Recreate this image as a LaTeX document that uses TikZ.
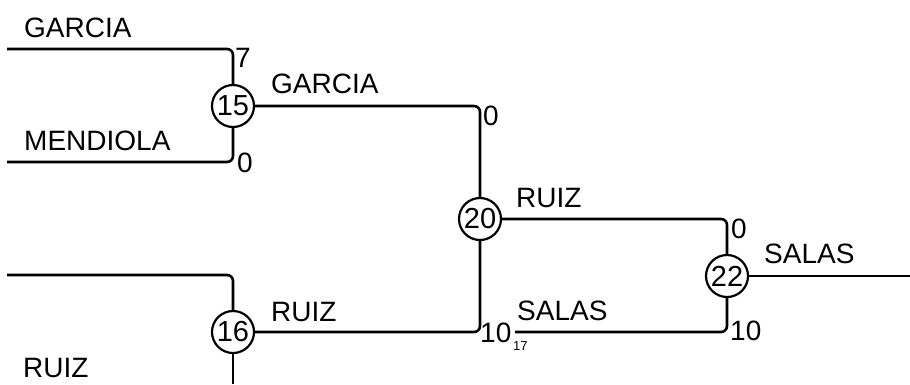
\documentclass[tikz,border=0pt]{standalone}
\usepackage{fontspec}
\setmainfont{Liberation Sans}
\begin{document}
\begin{tikzpicture}[x=1pt,y=-1pt,
  wire/.style={line width=2.6pt,rounded corners=6pt},
  match/.style={circle,draw,line width=2.2pt,minimum size=42pt,inner sep=0pt,font=\fontsize{29}{30}\selectfont},
  lab/.style={anchor=base west,inner sep=0pt,font=\fontsize{28}{30}\selectfont},
  tiny/.style={anchor=base west,inner sep=0pt,font=\fontsize{13}{14}\selectfont}]
\useasboundingbox (0,0) rectangle (910,384);
% matches
\node[match] (m15) at (233,106) {15};
\node[match] (m16) at (233,332) {16};
\node[match] (m20) at (480,219) {20};
\node[match] (m22) at (727,276) {22};
% free ends
\coordinate (gA) at (7,49);
\coordinate (mA) at (7,162);
\coordinate (rA) at (7,275);
\coordinate (rB) at (233,384);
\coordinate (out) at (910,276);
\coordinate (sA) at (515,332);
% connectors
\draw[wire] (gA) -| (m15);
\draw[wire] (mA) -| (m15);
\draw[wire] (rA) -| (m16);
\draw[wire] (m16) -- (rB);
\draw[wire] (m15) -| (m20);
\draw[wire] (m16) -| (m20);
\draw[wire] (m20) -| (m22);
\draw[wire] (sA) -| (m22);
\draw[wire] (m22) -- (out);
% labels
\node[lab] (t1) at (24,37) {GARCIA};
\node[lab] (t2) at (24,150) {MENDIOLA};
\node[lab] (t3) at (235,67) {7};
\node[lab] (t4) at (237,172) {0};
\node[lab] (t5) at (271,93) {GARCIA};
\node[lab] (t6) at (483,125) {0};
\node[lab] (t7) at (516,207) {RUIZ};
\node[lab] (t8) at (517,320) {SALAS};
\node[lab] (t9) at (480,342) {10};
\node[tiny] (t10) at (513,350) {17};
\node[lab] (t11) at (271,321) {RUIZ};
\node[lab] (t12) at (23,377) {RUIZ};
\node[lab] (t13) at (731,238) {0};
\node[lab] (t14) at (730,340) {10};
\node[lab] (t15) at (764,263) {SALAS};
\end{tikzpicture}
\end{document}
